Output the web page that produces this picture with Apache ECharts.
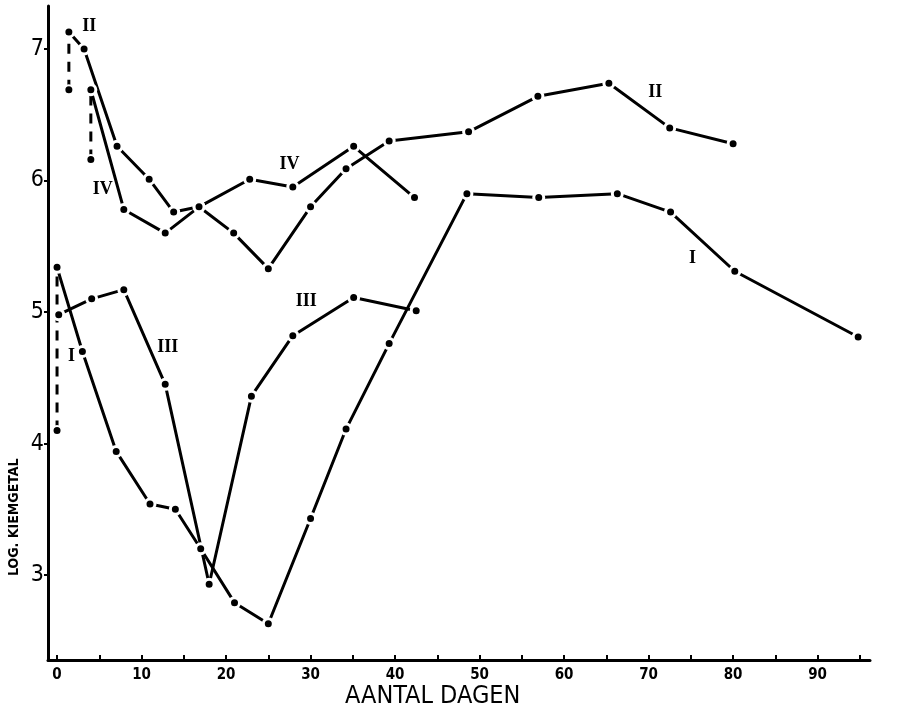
<!DOCTYPE html>
<html><head><meta charset="utf-8">
<script src="https://cdn.jsdelivr.net/npm/echarts@6/dist/echarts.min.js"></script>
<style>html,body{margin:0;padding:0;background:#fff}#c{width:898px;height:715px}</style>
</head><body><div id="c"></div>
<script>
// Axis ticks and labels
const xTicks = [0,5,10,15,20,25,30,35,40,45,50,55,60,65,70,75,80,85,90,95];
const xTickLabels = [0,10,20,30,40,50,60,70,80,90];
const yTicks = [3,4,5,6,7];

// Series I (days, log count)
const serI_start = [[0,4.10],[0,5.34]];
const serI = [[0,5.34],[3.0,4.70],[7.0,3.94],[11,3.54],[14,3.50],[17,3.20],[21,2.79],[25,2.63],[30,3.43],[34.2,4.11],[39.3,4.76],[48.5,5.90],[57,5.87],[66.3,5.90],[72.6,5.76],[80.2,5.31],[94.8,4.81]];
// Series II
const serII_start = [[1.4,6.69],[1.4,7.13]];
const serII = [[1.4,7.13],[3.2,7.00],[7.1,6.26],[10.9,6.01],[13.8,5.76],[16.8,5.80],[20.9,5.60],[25.0,5.33],[30,5.80],[34.2,6.09],[39.3,6.30],[48.7,6.37],[56.9,6.64],[65.3,6.74],[72.5,6.40],[80,6.28]];
// Series III
const serIII = [[0.2,4.98],[4.1,5.10],[7.9,5.17],[12.8,4.45],[18.0,2.93],[23.0,4.36],[27.9,4.82],[35.1,5.11],[42.5,5.01]];
// Series IV
const serIV_start = [[4.0,6.16],[4.0,6.69]];
const serIV = [[4.0,6.69],[7.9,5.78],[12.8,5.60],[16.8,5.80],[22.8,6.01],[27.9,5.95],[35.1,6.26],[42.3,5.87]];

// Curve labels [day, value, text]
const curveLabels = [[3.8,7.17,'II'],[5.4,5.93,'IV'],[27.5,6.12,'IV'],[70.8,6.67,'II'],[75.2,5.41,'I'],[29.5,5.08,'III'],[13.1,4.73,'III'],[1.7,4.66,'I']];

const SANS = '"DejaVu Sans Condensed", "DejaVu Sans", sans-serif';
const chart = echarts.init(document.getElementById('c'), null, {renderer:'canvas'});

function mainLine(data){
  return {type:'line', data:data, symbol:'circle', symbolSize:10, showSymbol:true,
    lineStyle:{color:'#000', width:3}, itemStyle:{color:'#000', borderColor:'#fff', borderWidth:3},
    animation:false, silent:true, z:3};
}
function startLine(data){
  return {type:'line', data:data, symbol:'circle', symbolSize:9, showSymbol:true,
    lineStyle:{color:'#000', width:3, type:[10,8]}, itemStyle:{color:'#000', borderColor:'#fff', borderWidth:2},
    animation:false, silent:true, z:2};
}

chart.setOption({
  backgroundColor:'#fff',
  animation:false,
  grid:{left:48, right:28, top:6, bottom:55},
  xAxis:{type:'value', min:-1.07, max:96.2,
    axisLine:{onZero:false, lineStyle:{color:'#000', width:3}},
    axisTick:{show:true, inside:true, length:5, customValues:xTicks, lineStyle:{color:'#000', width:2}},
    axisLabel:{customValues:xTickLabels, color:'#000', fontFamily:SANS, fontWeight:'bold', fontSize:15, margin:8},
    splitLine:{show:false}},
  yAxis:{type:'value', min:2.354, max:7.327,
    axisLine:{onZero:false, lineStyle:{color:'#000', width:3}},
    axisTick:{show:true, length:4, customValues:yTicks, lineStyle:{color:'#000', width:2}},
    axisLabel:{customValues:yTicks, color:'#000', fontFamily:SANS, fontSize:23, margin:4},
    splitLine:{show:false}},
  graphic:[
    {type:'text', x:345, y:684, style:{text:'AANTAL DAGEN', font:'25px "DejaVu Sans Condensed", "DejaVu Sans"', fill:'#000'}},
    {type:'text', x:7, y:576, rotation:Math.PI/2, style:{text:'LOG. KIEMGETAL', font:'bold 14px "DejaVu Sans Condensed", "DejaVu Sans"', fill:'#000', textVerticalAlign:'top'}}
  ],
  series:[
    startLine(serI_start), mainLine(serI),
    startLine(serII_start), mainLine(serII),
    mainLine(serIII),
    startLine(serIV_start), mainLine(serIV),
    {type:'scatter', data:curveLabels, symbol:'circle', symbolSize:1, itemStyle:{color:'rgba(255,255,255,0)', opacity:1}, silent:true, z:10,
      label:{show:true, position:'inside', formatter:function(p){return p.data[2];}, color:'#000',
        fontFamily:'"Liberation Serif", "DejaVu Serif", serif', fontWeight:'bold', fontSize:18}}
  ]
});
</script></body></html>
